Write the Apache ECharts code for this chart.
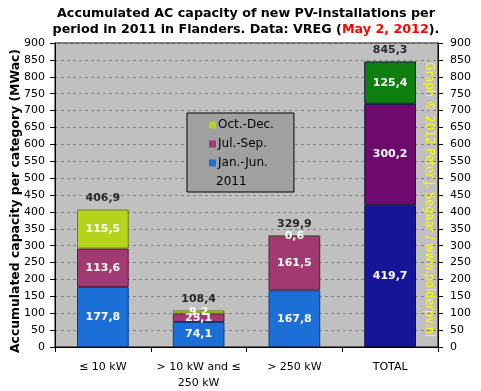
<!DOCTYPE html>
<html><head><meta charset="utf-8">
<script src="https://cdn.jsdelivr.net/npm/echarts@6/dist/echarts.min.js"></script>
<style>html,body{margin:0;padding:0;background:#fff}#c{width:481px;height:391px}</style>
</head><body><div id="c"></div>
<script>
const categories = ['≤ 10 kW', '> 10 kW and ≤\n250 kW', '> 250 kW', 'TOTAL'];
const janJun = [177.8, 74.1, 167.8, 419.7];
const julSep = [113.6, 25.1, 161.5, 300.2];
const octDec = [115.5, 9.2, 0.6, 125.4];
const totals = [406.9, 108.4, 329.9, 845.3];
const yTicks = [0, 50, 100, 150, 200, 250, 300, 350, 400, 450, 500, 550, 600, 650, 700, 750, 800, 850, 900];

const FONT = 'DejaVu Sans';
const fmt = v => v.toFixed(1).replace('.', ',');
const totalColors = ['#15159a', '#6e0a6e', '#0e7e0e'];
function mk(vals, color, border, idx) {
  return vals.map((v, i) => i === 3
    ? {value: v, itemStyle: {color: totalColors[idx], borderColor: '#101040'}}
    : {value: v, itemStyle: {color: color, borderColor: border}});
}
const chart = echarts.init(document.getElementById('c'));
const lbl = {show: true, position: 'inside', color: '#fff', fontWeight: 'bold', fontFamily: FONT, fontSize: 11,
  formatter: p => fmt(p.value)};
chart.setOption({
  animation: false,
  backgroundColor: '#fff',
  legend: {
    data: ['Oct.-Dec.', 'Jul.-Sep.', 'Jan.-Jun.'],
    orient: 'vertical', left: 187, top: 113,
    backgroundColor: '#a0a0a0', borderColor: '#000', borderWidth: 1, borderRadius: 0,
    padding: [6, 20, 23, 22],
    itemWidth: 7, itemHeight: 7, itemGap: 7, icon: 'rect',
    textStyle: {fontFamily: FONT, fontSize: 12, color: '#000', padding: [0, 0, 0, -3]}
  },
  graphic: [
    {type: 'text', x: 246, y: 6, z: 100, style: {
      text: '{a|Accumulated AC capacity of new PV-installations per}\n{a|period in 2011 in Flanders. Data: VREG (}{r|May 2, 2012}{a|).}',
      align: 'center', verticalAlign: 'top',
      rich: {
        a: {fontFamily: FONT, fontWeight: 'bold', fontSize: 12.7, fill: '#000', lineHeight: 16},
        r: {fontFamily: FONT, fontWeight: 'bold', fontSize: 12.7, fill: '#ff0000', lineHeight: 16}
      }}},
    {type: 'text', x: 16, y: 201, rotation: Math.PI / 2, z: 100, style: {
      text: 'Accumulated capacity per category (MWac)', align: 'center', verticalAlign: 'middle',
      fontFamily: FONT, fontWeight: 'bold', fontSize: 12.4, fill: '#000'}},
    {type: 'text', left: 216, top: 176, z: 100, style: {text: '2011', fontFamily: FONT, fontSize: 12, fill: '#000'}},
    {type: 'text', x: 434, y: 62, rotation: -Math.PI / 2, z: 100,
      style: {text: 'Graph © 2012 Peter J. Segaar / www.polderpv.nl', fontFamily: FONT, fontSize: 11.4, fill: '#ffff00'}}
  ],
  grid: {left: 55, right: 43, top: 43, bottom: 43, show: true, backgroundColor: '#c0c0c0', borderColor: '#000', borderWidth: 1},
  xAxis: {
    type: 'category', data: categories,
    axisLine: {lineStyle: {color: '#000'}},
    axisTick: {show: true, length: 5, lineStyle: {color: '#000'}},
    axisLabel: {interval: 0, fontFamily: FONT, fontSize: 11, color: '#000', margin: 12, lineHeight: 16}
  },
  yAxis: [{
    type: 'value', min: 0, max: 900, interval: 50,
    axisLine: {show: true, lineStyle: {color: '#000'}},
    axisTick: {show: true, length: 5, lineStyle: {color: '#000'}},
    axisLabel: {fontFamily: FONT, fontSize: 11, color: '#000', margin: 10},
    splitLine: {show: true, lineStyle: {color: '#808080', type: [3, 3], width: 1}}
  }, {
    type: 'value', min: 0, max: 900, interval: 50, position: 'right',
    axisLine: {show: true, lineStyle: {color: '#000'}},
    axisTick: {show: true, length: 5, lineStyle: {color: '#000'}},
    axisLabel: {fontFamily: FONT, fontSize: 11, color: '#000', margin: 12},
    splitLine: {show: false}
  }],
  series: [
    {name: 'Jan.-Jun.', type: 'bar', stack: 's', barWidth: '54%', data: mk(janJun, '#1c6fd6', '#0a3c80', 0), label: lbl,
      itemStyle: {color: '#1c6fd6', borderWidth: 1}},
    {name: 'Jul.-Sep.', type: 'bar', stack: 's', data: mk(julSep, '#a23a72', '#5a1a40', 1), label: lbl,
      itemStyle: {color: '#a23a72', borderWidth: 1}},
    {name: 'Oct.-Dec.', type: 'bar', stack: 's', data: mk(octDec, '#b4d41c', '#6a8010', 2), label: lbl,
      itemStyle: {color: '#b4d41c', borderWidth: 1}},
    {name: 'total', type: 'scatter', data: totals, symbolSize: 0, z: 10,
      label: {show: true, position: 'top', distance: 6, color: '#000', fontWeight: 'bold', fontFamily: FONT, fontSize: 11,
        formatter: p => fmt(p.value)}}
  ]
});
</script></body></html>
